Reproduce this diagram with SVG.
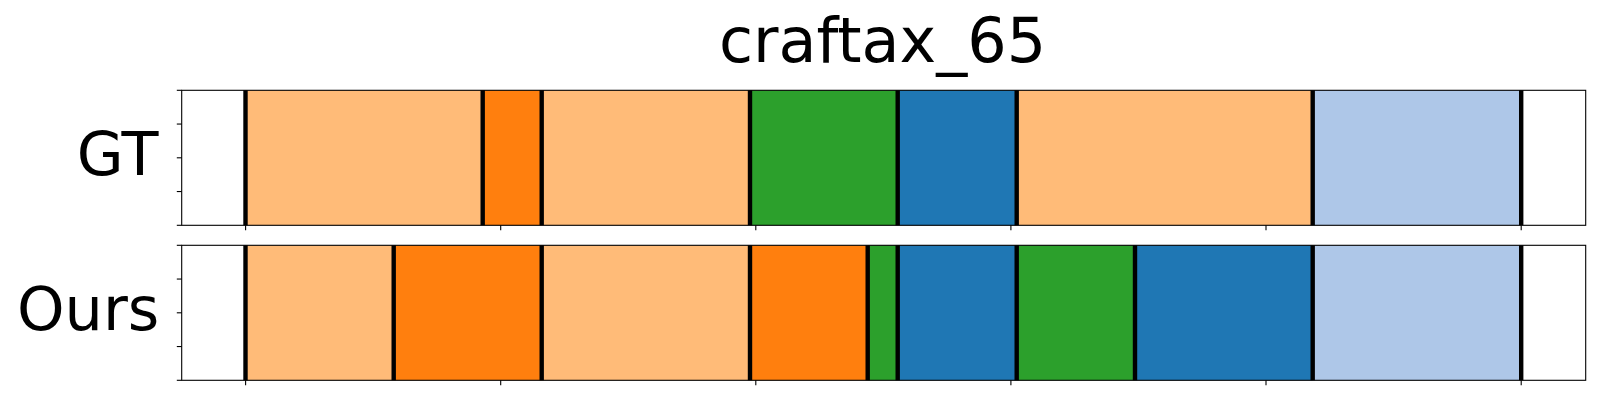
<svg xmlns="http://www.w3.org/2000/svg" width="1600" height="400" viewBox="0 0 1600 400">
<style>
.lo{fill:#ffbb78}.o{fill:#ff7f0e}.g{fill:#2ca02c}.b{fill:#1f77b4}.lb{fill:#aec7e8}
.sep{stroke:#000;stroke-width:4.4}
.sp{fill:none;stroke:#000;stroke-width:1.1}
.tk{stroke:#000;stroke-width:1.1}
text{font-family:"DejaVu Sans",sans-serif;fill:#000}
</style>
<rect width="1600" height="400" fill="#fff"/>
<text x="882.5" y="62" font-size="62" text-anchor="middle">craftax_65</text>
<g id="gt">
<text x="158.5" y="175" font-size="60.5" text-anchor="end">GT</text>
<rect class="lo" x="245.5" y="90.3" width="237.2" height="135"/>
<rect class="o" x="482.7" y="90.3" width="59" height="135"/>
<rect class="lo" x="541.7" y="90.3" width="208.3" height="135"/>
<rect class="g" x="750" y="90.3" width="147.7" height="135"/>
<rect class="b" x="897.7" y="90.3" width="119" height="135"/>
<rect class="lo" x="1016.7" y="90.3" width="296" height="135"/>
<rect class="lb" x="1312.7" y="90.3" width="208.5" height="135"/>
<g class="sep">
<line x1="245.5" y1="90.3" x2="245.5" y2="225.3"/>
<line x1="482.7" y1="90.3" x2="482.7" y2="225.3"/>
<line x1="541.7" y1="90.3" x2="541.7" y2="225.3"/>
<line x1="750" y1="90.3" x2="750" y2="225.3"/>
<line x1="897.7" y1="90.3" x2="897.7" y2="225.3"/>
<line x1="1016.7" y1="90.3" x2="1016.7" y2="225.3"/>
<line x1="1312.7" y1="90.3" x2="1312.7" y2="225.3"/>
<line x1="1521.2" y1="90.3" x2="1521.2" y2="225.3"/>
</g>
<rect class="sp" x="181.7" y="90.3" width="1404" height="135"/>
<g class="tk">
<line x1="176.8" y1="90.3" x2="181.7" y2="90.3"/>
<line x1="176.8" y1="124.05" x2="181.7" y2="124.05"/>
<line x1="176.8" y1="157.8" x2="181.7" y2="157.8"/>
<line x1="176.8" y1="191.55" x2="181.7" y2="191.55"/>
<line x1="176.8" y1="225.3" x2="181.7" y2="225.3"/>
<line x1="245.6" y1="225.3" x2="245.6" y2="230.2"/>
<line x1="500.7" y1="225.3" x2="500.7" y2="230.2"/>
<line x1="755.8" y1="225.3" x2="755.8" y2="230.2"/>
<line x1="1010.9" y1="225.3" x2="1010.9" y2="230.2"/>
<line x1="1266" y1="225.3" x2="1266" y2="230.2"/>
<line x1="1521.2" y1="225.3" x2="1521.2" y2="230.2"/>
</g>
</g>
<g id="ours">
<text x="159.3" y="330" font-size="60.5" text-anchor="end">Ours</text>
<rect class="lo" x="245.5" y="245.3" width="148.2" height="135"/>
<rect class="o" x="393.7" y="245.3" width="148" height="135"/>
<rect class="lo" x="541.7" y="245.3" width="208.3" height="135"/>
<rect class="o" x="750" y="245.3" width="117.7" height="135"/>
<rect class="g" x="867.7" y="245.3" width="30" height="135"/>
<rect class="b" x="897.7" y="245.3" width="119" height="135"/>
<rect class="g" x="1016.7" y="245.3" width="118.3" height="135"/>
<rect class="b" x="1135" y="245.3" width="177.7" height="135"/>
<rect class="lb" x="1312.7" y="245.3" width="208.5" height="135"/>
<g class="sep">
<line x1="245.5" y1="245.3" x2="245.5" y2="380.3"/>
<line x1="393.7" y1="245.3" x2="393.7" y2="380.3"/>
<line x1="541.7" y1="245.3" x2="541.7" y2="380.3"/>
<line x1="750" y1="245.3" x2="750" y2="380.3"/>
<line x1="867.7" y1="245.3" x2="867.7" y2="380.3"/>
<line x1="897.7" y1="245.3" x2="897.7" y2="380.3"/>
<line x1="1016.7" y1="245.3" x2="1016.7" y2="380.3"/>
<line x1="1135" y1="245.3" x2="1135" y2="380.3"/>
<line x1="1312.7" y1="245.3" x2="1312.7" y2="380.3"/>
<line x1="1521.2" y1="245.3" x2="1521.2" y2="380.3"/>
</g>
<rect class="sp" x="181.7" y="245.3" width="1404" height="135"/>
<g class="tk">
<line x1="176.8" y1="245.3" x2="181.7" y2="245.3"/>
<line x1="176.8" y1="279.05" x2="181.7" y2="279.05"/>
<line x1="176.8" y1="312.8" x2="181.7" y2="312.8"/>
<line x1="176.8" y1="346.55" x2="181.7" y2="346.55"/>
<line x1="176.8" y1="380.3" x2="181.7" y2="380.3"/>
<line x1="245.6" y1="380.3" x2="245.6" y2="385.2"/>
<line x1="500.7" y1="380.3" x2="500.7" y2="385.2"/>
<line x1="755.8" y1="380.3" x2="755.8" y2="385.2"/>
<line x1="1010.9" y1="380.3" x2="1010.9" y2="385.2"/>
<line x1="1266" y1="380.3" x2="1266" y2="385.2"/>
<line x1="1521.2" y1="380.3" x2="1521.2" y2="385.2"/>
</g>
</g>
</svg>
